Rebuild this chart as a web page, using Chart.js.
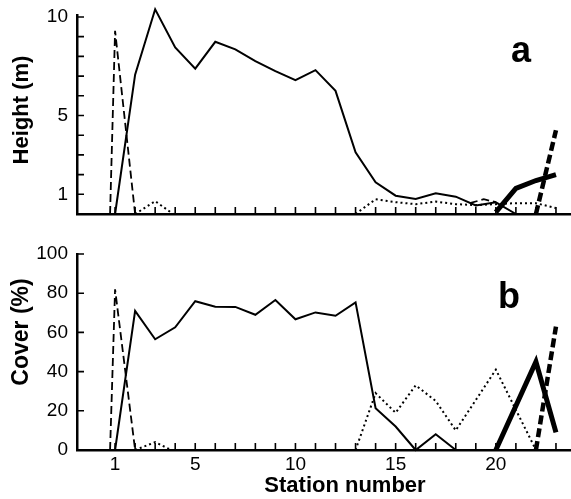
<!DOCTYPE html>
<html>
<head>
<meta charset="utf-8">
<script src="https://cdn.jsdelivr.net/npm/chart.js@4.4.1/dist/chart.umd.min.js"></script>
<style>
  html, body { margin: 0; padding: 0; background: #fff; }
  #wrap { position: relative; width: 571px; height: 499px; }
  canvas { position: absolute; left: 0; }
  #heightChart { top: 0; }
  #coverChart { top: 230px; }
</style>
</head>
<body>
<div id="wrap">
  <canvas id="heightChart" width="571" height="230"></canvas>
  <canvas id="coverChart" width="571" height="269"></canvas>
</div>
<script>
// Axis ticks
const stationTicks = [1, 2, 3, 4, 5, 6, 7, 8, 9, 10, 11, 12, 13, 14, 15, 16, 17, 18, 19, 20, 21, 22, 23];
const stationLabels = [1, 5, 10, 15, 20];
const heightTicks = [1, 2, 3, 4, 5, 6, 7, 8, 9, 10];
const heightLabels = [1, 5, 10];
const coverTicks = [0, 20, 40, 60, 80, 100];

// Panel a - height (m)
const hThinX = [1, 2, 3, 4, 5, 6, 7, 8, 9, 10, 11, 12, 13, 14, 15, 16, 17, 18, 19, 20, 21];
const hThin = [0, 7.07, 10.39, 8.45, 7.38, 8.74, 8.36, 7.76, 7.25, 6.79, 7.3, 6.25, 3.13, 1.61, 0.93, 0.76, 1.05, 0.88, 0.43, 0.59, 0];
const hDashX = [0.75, 1, 2, 2, 18.7, 19.4, 20];
const hDash = [0, 9.3, 0, null, 0.55, 0.75, 0.6];
const hDotX = [2, 3, 3.9, 3.9, 13, 14, 15, 16, 17, 18, 19, 20, 21, 22, 23];
const hDot = [0, 0.65, 0, null, 0, 0.75, 0.6, 0.5, 0.63, 0.5, 0.45, 0.5, 0.55, 0.55, 0.3];
const hThickX = [20, 21, 22, 23];
const hThick = [0.1, 1.3, 1.7, 2.0];
const hThickDashX = [22, 23];
const hThickDash = [0, 4.25];

// Panel b - cover (%)
const cThinX = [1, 2, 3, 4, 5, 6, 7, 8, 9, 10, 11, 12, 13, 14, 15, 16, 17, 18];
const cThin = [0, 71, 56.5, 62.6, 75.9, 73.1, 73, 69, 76.5, 66.7, 70.2, 68.5, 75.3, 21.3, 12, 0, 8, 0];
const cDashX = [0.75, 1, 2];
const cDash = [0, 82, 0];
const cDotX = [2, 3, 3.8, 3.8, 13, 14, 15, 16, 17, 18, 20, 22];
const cDot = [0, 4, 0, null, 0, 29, 19, 33, 25, 10, 41, 0];
const cThickX = [20, 22, 23];
const cThick = [0, 45, 9];
const cThickDashX = [22, 23];
const cThickDash = [0, 63];

const ink = '#000';
const tickLen = 7;
const fontFamily = "'Liberation Sans', Arial, Helvetica, sans-serif";
Chart.defaults.font.family = fontFamily;
Chart.defaults.color = ink;

function pts(xs, ys) {
    return xs.map((x, i) => ({ x: x, y: ys[i] }));
}

function line(xs, ys, width, dash) {
    return {
        data: pts(xs, ys),
        borderColor: ink,
        borderWidth: width,
        borderDash: dash || [],
        pointRadius: 0,
        tension: 0,
        spanGaps: false,
        clip: false,
        borderCapStyle: 'butt',
        borderJoinStyle: 'miter'
    };
}

// small ticks pointing into the plot, like the original figure
const innerTicks = {
    id: 'innerTicks',
    afterDraw(chart) {
        const { ctx, chartArea, scales } = chart;
        const x = scales.x, y = scales.y;
        ctx.save();
        ctx.setLineDash([]);
        ctx.strokeStyle = ink;
        ctx.lineWidth = 1.6;
        ctx.beginPath();
        x.ticks.forEach(t => {
            const px = x.getPixelForValue(t.value);
            ctx.moveTo(px, chartArea.bottom);
            ctx.lineTo(px, chartArea.bottom - tickLen);
        });
        y.ticks.forEach(t => {
            const py = y.getPixelForValue(t.value);
            ctx.moveTo(chartArea.left, py);
            ctx.lineTo(chartArea.left + tickLen, py);
        });
        ctx.stroke();
        ctx.restore();
    }
};

// free text: panel letters and axis titles
const panelText = {
    id: 'panelText',
    afterDraw(chart, args, opts) {
        const ctx = chart.ctx;
        opts.items.forEach(it => {
            ctx.save();
            ctx.fillStyle = ink;
            ctx.font = it.font;
            ctx.textAlign = 'center';
            ctx.textBaseline = 'middle';
            ctx.translate(it.x, it.y);
            if (it.rotate) ctx.rotate(it.rotate);
            ctx.fillText(it.text, 0, 0);
            ctx.restore();
        });
    }
};

function makeChart(canvas, datasets, cfg) {
    return new Chart(canvas.getContext('2d'), {
        type: 'line',
        data: { datasets: datasets },
        plugins: [innerTicks, panelText],
        options: {
            responsive: false,
            animation: false,
            events: [],
            layout: { padding: { top: cfg.padTop, left: 0, right: 0, bottom: 0 } },
            plugins: {
                legend: { display: false },
                tooltip: { enabled: false },
                panelText: { items: cfg.texts }
            },
            scales: {
                x: {
                    type: 'linear',
                    min: -0.9,
                    max: 23.75,
                    grid: { display: false, drawTicks: false, tickLength: 0 },
                    border: { color: ink, width: 2.5 },
                    afterBuildTicks: s => { s.ticks = stationTicks.map(v => ({ value: v })); },
                    afterFit: s => {
                        s.height = cfg.xHeight;
                        s.paddingLeft = 0;
                        s.paddingRight = 0;
                    },
                    ticks: {
                        display: cfg.xLabels,
                        autoSkip: false,
                        maxRotation: 0,
                        padding: 3,
                        font: { size: 19 },
                        callback: v => stationLabels.includes(v) ? String(v) : ''
                    }
                },
                y: {
                    min: cfg.yMin,
                    max: cfg.yMax,
                    grid: { display: false, drawTicks: false, tickLength: 0 },
                    border: { color: ink, width: 2.5 },
                    afterBuildTicks: s => { s.ticks = cfg.yTicks.map(v => ({ value: v })); },
                    afterFit: s => {
                        s.width = 77;
                        s.paddingTop = 0;
                        s.paddingBottom = 0;
                    },
                    ticks: {
                        autoSkip: false,
                        padding: 9,
                        font: { size: 19 },
                        callback: v => cfg.yLabels.includes(v) ? String(v) : ''
                    }
                }
            }
        }
    });
}

makeChart(document.getElementById('heightChart'), [
    line(hThinX, hThin, 2),
    line(hDashX, hDash, 1.8, [8, 4]),
    line(hDotX, hDot, 2, [2, 3]),
    line(hThickX, hThick, 5),
    line(hThickDashX, hThickDash, 4.5, [9, 4])
], {
    padTop: 15,
    xHeight: 16,
    xLabels: false,
    yMin: 0,
    yMax: 10.1,
    yTicks: heightTicks,
    yLabels: heightLabels,
    texts: [
        { text: 'a', x: 521, y: 52, font: 'bold 36px ' + fontFamily },
        { text: 'Height (m)', x: 22, y: 110, rotate: -Math.PI / 2, font: 'bold 22px ' + fontFamily }
    ]
});

makeChart(document.getElementById('coverChart'), [
    line(cThinX, cThin, 2),
    line(cDashX, cDash, 1.8, [8, 4]),
    line(cDotX, cDot, 2, [2, 3]),
    line(cThickX, cThick, 5),
    line(cThickDashX, cThickDash, 4.5, [9, 4])
], {
    padTop: 24,
    xHeight: 49,
    xLabels: true,
    yMin: 0,
    yMax: 100,
    yTicks: coverTicks,
    yLabels: coverTicks,
    texts: [
        { text: 'b', x: 509, y: 68, font: 'bold 36px ' + fontFamily },
        { text: 'Cover (%)', x: 22, y: 102, rotate: -Math.PI / 2, font: 'bold 23px ' + fontFamily },
        { text: 'Station number', x: 345, y: 256, font: 'bold 22px ' + fontFamily }
    ]
});
</script>
</body>
</html>
